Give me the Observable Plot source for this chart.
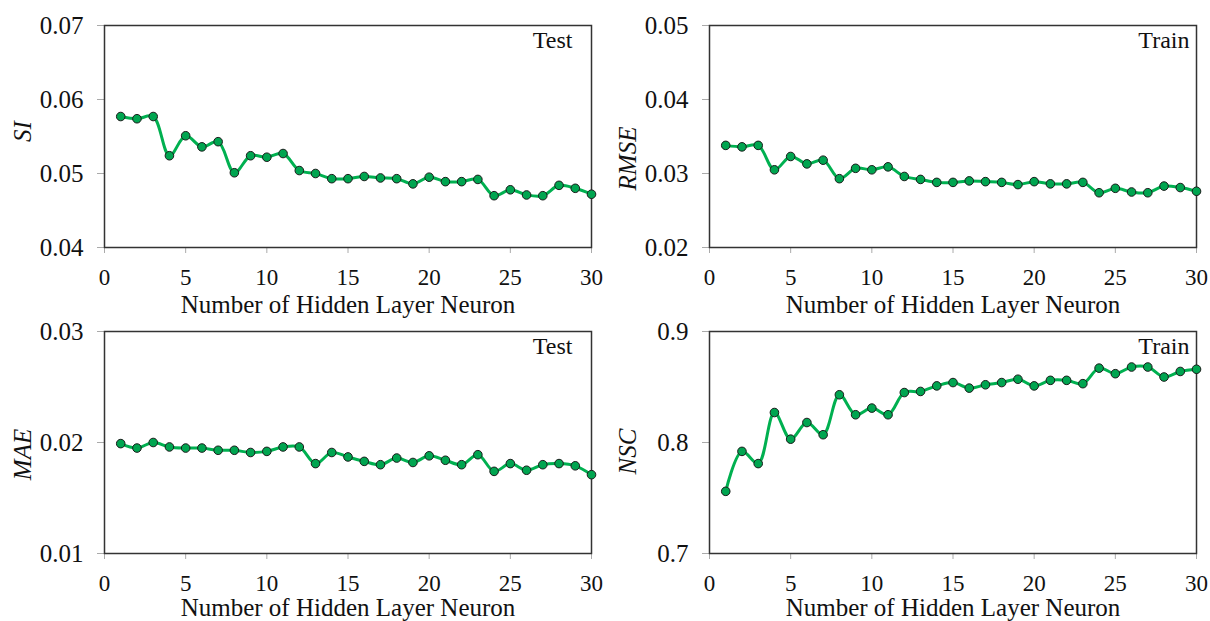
<!DOCTYPE html>
<html>
<head>
<meta charset="utf-8">
<script src="https://cdn.jsdelivr.net/npm/d3@7"></script>
<script src="https://cdn.jsdelivr.net/npm/@observablehq/plot@0.6"></script>
<style>
  html, body { margin: 0; padding: 0; background: #fff; width: 1210px; height: 621px; overflow: hidden; }
  .panel { position: absolute; width: 605px; height: 310px; }
  .panel.top { z-index: 2; }
  .panel svg { overflow: visible !important; background: transparent !important; }
  .panel svg, .panel svg text { font-family: "Liberation Serif", "Times New Roman", Times, serif !important; }
</style>
</head>
<body>
<div id="p1" class="panel top" style="left:0px;top:0px"></div>
<div id="p2" class="panel top" style="left:605px;top:0px"></div>
<div id="p3" class="panel" style="left:0px;top:306px"></div>
<div id="p4" class="panel" style="left:605px;top:306px"></div>
<script>
const neurons = [1,2,3,4,5,6,7,8,9,10,11,12,13,14,15,16,17,18,19,20,21,22,23,24,25,26,27,28,29,30];

const siTest = [0.0577,0.0574,0.0577,0.0524,0.0551,0.0536,0.0543,0.0501,0.0524,0.0522,
                0.0527,0.0504,0.0500,0.0493,0.0493,0.0496,0.0494,0.0493,0.0486,0.0495,
                0.0489,0.0489,0.0492,0.0470,0.0478,0.0471,0.0470,0.0484,0.0480,0.0472];

const rmseTrain = [0.0338,0.0336,0.0338,0.0305,0.0323,0.0313,0.0318,0.0293,0.0307,0.0305,
                   0.0309,0.0296,0.0292,0.0288,0.0288,0.0290,0.0289,0.0288,0.0285,0.0289,
                   0.0286,0.0286,0.0288,0.0274,0.0280,0.0275,0.0274,0.0283,0.0281,0.0276];

const maeTest = [0.0199,0.0195,0.0200,0.0196,0.0195,0.0195,0.0193,0.0193,0.0191,0.0192,
                 0.0196,0.0196,0.0181,0.0191,0.0187,0.0183,0.0180,0.0186,0.0182,0.0188,
                 0.0184,0.0180,0.0189,0.0174,0.0181,0.0175,0.0180,0.0181,0.0179,0.0171];

const nscTrain = [0.756,0.792,0.781,0.827,0.803,0.818,0.807,0.843,0.825,0.831,
                  0.825,0.845,0.846,0.851,0.854,0.849,0.852,0.854,0.857,0.851,
                  0.856,0.856,0.853,0.867,0.862,0.868,0.868,0.859,0.864,0.866];

const xTicks = [0,5,10,15,20,25,30];
const xLabel = "Number of Hidden Layer Neuron";

const panels = [
  {id:"p1", label:"SI", values:siTest, domain:[0.04,0.07], ticks:[0.04,0.05,0.06,0.07], fmt:".2f", tag:"Test", tagDx:-19, labelDy:-5, xLabDy:57},
  {id:"p2", label:"RMSE", values:rmseTrain, domain:[0.02,0.05], ticks:[0.02,0.03,0.04,0.05], fmt:".2f", tag:"Train", tagDx:-7, labelDy:22, xLabDy:57},
  {id:"p3", label:"MAE", values:maeTest, domain:[0.01,0.03], ticks:[0.01,0.02,0.03], fmt:".2f", tag:"Test", tagDx:-19, labelDy:12, xLabDy:54},
  {id:"p4", label:"NSC", values:nscTrain, domain:[0.7,0.9], ticks:[0.7,0.8,0.9], fmt:".1f", tag:"Train", tagDx:-7, labelDy:9, xLabDy:54}
];

const serif = "Liberation Serif, Times New Roman, serif";
const lineColor = "#00b050";
const dotFill = "#00a550";

for (const p of panels) {
  const data = neurons.map((n, i) => ({n, v: p.values[i]}));
  const chart = Plot.plot({
    width: 605,
    height: 310,
    marginLeft: 104,
    marginRight: 14,
    marginTop: 25,
    marginBottom: 63,
    style: {background: "transparent", overflow: "visible", color: "#111"},
    x: {domain: [0, 30]},
    y: {domain: p.domain},
    marks: [
      Plot.axisX({ticks: xTicks, tickSize: 6, tickPadding: 15, fontSize: 23, stroke: "#aaa", fill: "#111", label: null, fontFamily: serif}),
      Plot.axisY({ticks: p.ticks, tickSize: 7, tickPadding: 14, fontSize: 25, stroke: "#aaa", fill: "#111", tickFormat: d3.format(p.fmt), label: null, fontFamily: serif}),
      Plot.frame({stroke: "#333", strokeWidth: 1.5}),
      Plot.line(data, {x: "n", y: "v", stroke: lineColor, strokeWidth: 3, curve: "catmull-rom"}),
      Plot.dot(data, {x: "n", y: "v", r: 4.3, fill: dotFill, stroke: "#1a1a1a", strokeWidth: 1}),
      Plot.text([p.tag], {frameAnchor: "top-right", text: d => d, dx: p.tagDx, dy: 5, lineAnchor: "top", textAnchor: "end", fontSize: 24, fill: "#111", fontFamily: serif}),
      Plot.text([p.label], {frameAnchor: "left", text: d => d, rotate: -90, dx: -82, dy: p.labelDy, lineAnchor: "middle", textAnchor: "middle", fontSize: 25, fontStyle: "italic", fill: "#111", fontFamily: serif}),
      Plot.text([xLabel], {frameAnchor: "bottom", text: d => d, dy: p.xLabDy, lineAnchor: "middle", textAnchor: "middle", fontSize: 25, fill: "#111", fontFamily: serif})
    ]
  });
  document.getElementById(p.id).appendChild(chart);
}
</script>
</body>
</html>
